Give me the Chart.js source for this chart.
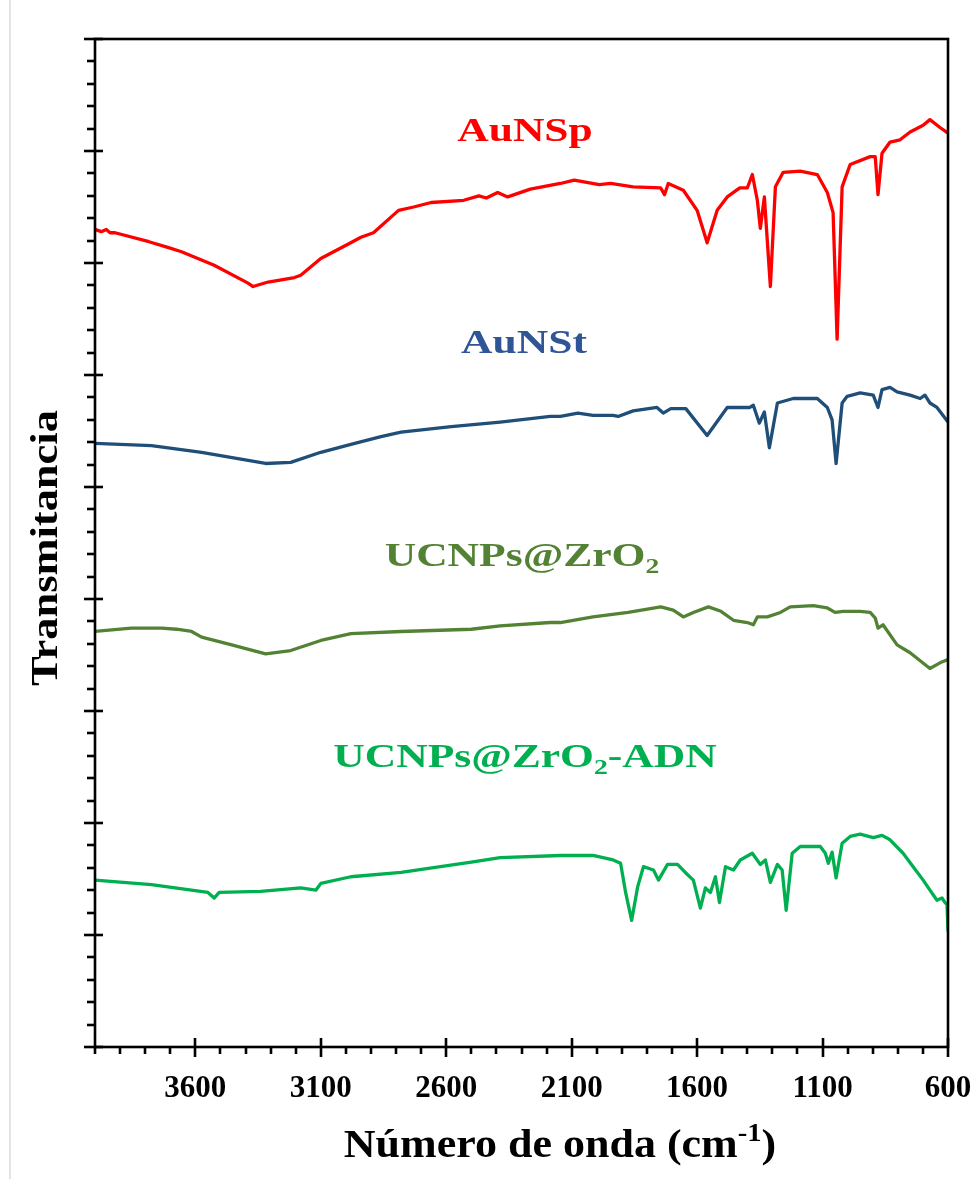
<!DOCTYPE html>
<html>
<head>
<meta charset="utf-8">
<script src="https://cdn.jsdelivr.net/npm/chart.js@4.4.1/dist/chart.umd.min.js"></script>
<style>
  html, body { margin: 0; padding: 0; background: #fff; }
  #wrap { position: relative; width: 977px; height: 1179px; }
  #edge { position: absolute; left: 9px; top: 0; width: 2px; height: 1179px; background: #e4e4e4; }
  canvas { display: block; }
</style>
</head>
<body>
<div id="wrap">
  <div id="edge"></div>
  <canvas id="c" width="977" height="1179"></canvas>
</div>
<script>
// FTIR spectra: wavenumber (cm-1) and transmittance (arbitrary, offset traces)
const xTickValues = [3600, 3100, 2600, 2100, 1600, 1100, 600];

const auNSpWave = [4000, 3975, 3955, 3940, 3920, 3785, 3710, 3655, 3525, 3390, 3370, 3310, 3205, 3180, 3100, 2990, 2940, 2890, 2790, 2730, 2660, 2530, 2470, 2440, 2395, 2355, 2265, 2145, 2090, 2040, 1990, 1945, 1855, 1745, 1730, 1715, 1655, 1600, 1560, 1520, 1480, 1430, 1400, 1380, 1360, 1348, 1332, 1308, 1288, 1257, 1189, 1121, 1081, 1058, 1042, 1022, 990, 910, 890, 879, 863, 831, 791, 751, 699, 672, 632, 600];
const auNSpT = [7.30, 7.28, 7.30, 7.27, 7.27, 7.19, 7.14, 7.10, 6.98, 6.82, 6.79, 6.83, 6.87, 6.89, 7.04, 7.17, 7.23, 7.27, 7.47, 7.50, 7.54, 7.56, 7.60, 7.58, 7.63, 7.59, 7.66, 7.71, 7.74, 7.72, 7.70, 7.71, 7.68, 7.67, 7.61, 7.71, 7.65, 7.47, 7.18, 7.47, 7.59, 7.67, 7.67, 7.79, 7.56, 7.31, 7.59, 6.79, 7.68, 7.81, 7.82, 7.79, 7.63, 7.45, 6.32, 7.68, 7.88, 7.95, 7.95, 7.61, 7.98, 8.08, 8.10, 8.17, 8.23, 8.28, 8.21, 8.16];

const auNStWave = [4000, 3775, 3575, 3320, 3220, 3100, 2980, 2860, 2780, 2580, 2385, 2185, 2145, 2075, 2015, 1935, 1915, 1855, 1760, 1735, 1705, 1645, 1560, 1480, 1390, 1376, 1352, 1332, 1312, 1280, 1217, 1121, 1081, 1062, 1046, 1022, 1002, 950, 898, 879, 863, 831, 803, 751, 711, 692, 672, 644, 600];
const auNStT = [5.39, 5.37, 5.31, 5.21, 5.22, 5.31, 5.38, 5.45, 5.49, 5.54, 5.58, 5.63, 5.63, 5.66, 5.64, 5.64, 5.63, 5.68, 5.71, 5.66, 5.70, 5.70, 5.46, 5.71, 5.71, 5.73, 5.57, 5.67, 5.35, 5.75, 5.79, 5.79, 5.71, 5.60, 5.21, 5.75, 5.81, 5.84, 5.82, 5.71, 5.87, 5.89, 5.85, 5.82, 5.79, 5.82, 5.75, 5.71, 5.58];

const ucnpWave = [4000, 3855, 3735, 3675, 3615, 3575, 3455, 3320, 3220, 3100, 2980, 2780, 2500, 2385, 2185, 2145, 2015, 1875, 1745, 1695, 1655, 1615, 1555, 1505, 1455, 1400, 1376, 1360, 1320, 1268, 1229, 1137, 1081, 1050, 1018, 950, 910, 890, 879, 859, 803, 751, 672, 632, 600];
const ucnpT = [3.71, 3.74, 3.74, 3.73, 3.71, 3.66, 3.59, 3.51, 3.54, 3.63, 3.69, 3.71, 3.73, 3.76, 3.79, 3.79, 3.84, 3.88, 3.93, 3.90, 3.84, 3.88, 3.93, 3.89, 3.81, 3.79, 3.77, 3.84, 3.84, 3.88, 3.93, 3.94, 3.92, 3.88, 3.89, 3.89, 3.88, 3.83, 3.74, 3.77, 3.59, 3.52, 3.38, 3.43, 3.46];

const adnWave = [4000, 3775, 3550, 3525, 3505, 3340, 3180, 3120, 3100, 2980, 2780, 2500, 2385, 2145, 2015, 1935, 1905, 1885, 1861, 1837, 1814, 1774, 1754, 1718, 1678, 1639, 1615, 1587, 1567, 1547, 1527, 1511, 1487, 1455, 1428, 1380, 1348, 1328, 1308, 1280, 1261, 1245, 1221, 1189, 1109, 1089, 1077, 1062, 1046, 1022, 990, 950, 898, 863, 831, 779, 739, 699, 672, 644, 624, 612, 604, 600];
const adnT = [1.49, 1.45, 1.38, 1.33, 1.38, 1.39, 1.42, 1.40, 1.46, 1.52, 1.56, 1.65, 1.69, 1.71, 1.71, 1.67, 1.64, 1.38, 1.13, 1.43, 1.61, 1.58, 1.49, 1.63, 1.63, 1.54, 1.49, 1.24, 1.42, 1.38, 1.52, 1.29, 1.61, 1.58, 1.67, 1.73, 1.63, 1.67, 1.47, 1.63, 1.58, 1.22, 1.73, 1.79, 1.79, 1.73, 1.64, 1.74, 1.51, 1.82, 1.88, 1.90, 1.87, 1.89, 1.85, 1.73, 1.61, 1.49, 1.40, 1.31, 1.33, 1.29, 1.27, 1.04];

const SERIF = '"Liberation Serif", "Times New Roman", serif';

// Trace styling and the in-plot captions (text parts: n = normal, sub = subscript)
const traces = [
  { name: 'AuNSp', wave: auNSpWave, t: auNSpT, line: '#ff0000', text: '#ff0000',
    parts: [['AuNSp', 'n']], cx: 525, base: 141 },
  { name: 'AuNSt', wave: auNStWave, t: auNStT, line: '#1f4e79', text: '#2f5597',
    parts: [['AuNSt', 'n']], cx: 524, base: 353 },
  { name: 'UCNPs@ZrO2', wave: ucnpWave, t: ucnpT, line: '#548235', text: '#548235',
    parts: [['UCNPs@ZrO', 'n'], ['2', 'sub']], cx: 522, base: 566 },
  { name: 'UCNPs@ZrO2-ADN', wave: adnWave, t: adnT, line: '#00b050', text: '#00b050',
    parts: [['UCNPs@ZrO', 'n'], ['2', 'sub'], ['-ADN', 'n']], cx: 525, base: 767 }
];

function drawRich(ctx, parts, size, color, stretch, align) {
  const fontFor = k => `bold ${k === 'n' ? size : Math.round(size * 0.64)}px ${SERIF}`;
  let total = 0;
  const widths = parts.map(([s, k]) => { ctx.font = fontFor(k); const w = ctx.measureText(s).width; total += w; return w; });
  ctx.save();
  ctx.scale(stretch, 1);
  ctx.fillStyle = color;
  ctx.textBaseline = 'alphabetic';
  ctx.textAlign = 'left';
  let x = align === 'center' ? -total / 2 : 0;
  parts.forEach(([s, k], i) => {
    ctx.font = fontFor(k);
    const dy = k === 'sub' ? size * 0.22 : (k === 'sup' ? -size * 0.40 : 0);
    ctx.fillText(s, x, dy);
    x += widths[i];
  });
  ctx.restore();
}

const decor = {
  id: 'decor',
  afterDatasetsDraw(chart) {
    const { ctx, chartArea: a, scales: { x, y } } = chart;
    ctx.save();
    ctx.strokeStyle = '#000';
    ctx.lineWidth = 2.6;
    ctx.lineCap = 'butt';
    ctx.strokeRect(a.left, a.top, a.right - a.left, a.bottom - a.top);

    // wavenumber ticks: majors cross the axis, minors every 100 cm-1 point outward
    for (let w = 600; w <= 4000; w += 100) {
      const px = Math.round(x.getPixelForValue(w));
      const major = xTickValues.includes(w);
      ctx.beginPath();
      ctx.moveTo(px, a.bottom - (major ? 9 : 0));
      ctx.lineTo(px, a.bottom + (major ? 10 : 7));
      ctx.stroke();
    }
    // transmittance ticks: majors every 1, minors every 0.2
    for (let i = 0; i <= 45; i++) {
      const py = Math.round(y.getPixelForValue(i * 0.2));
      const major = i % 5 === 0;
      ctx.beginPath();
      ctx.moveTo(a.left - (major ? 11 : 8), py);
      ctx.lineTo(a.left + (major ? 8 : 0), py);
      ctx.stroke();
    }
    ctx.restore();

    // captions beside each trace
    traces.forEach(tr => {
      ctx.save();
      ctx.translate(tr.cx, tr.base);
      drawRich(ctx, tr.parts, 33, tr.text, 1.32, 'center');
      ctx.restore();
    });

    // axis titles
    ctx.save();
    ctx.translate(560, 1157);
    drawRich(ctx, [['Número de onda (cm', 'n'], ['-1', 'sup'], [')', 'n']], 40, '#000', 1.1, 'center');
    ctx.restore();

    ctx.save();
    ctx.translate(57, 548);
    ctx.rotate(-Math.PI / 2);
    drawRich(ctx, [['Transmitancia', 'n']], 38, '#000', 1.17, 'center');
    ctx.restore();
  }
};

new Chart(document.getElementById('c'), {
  type: 'line',
  data: {
    datasets: traces.map(tr => ({
      label: tr.name,
      data: tr.wave.map((w, i) => ({ x: w, y: tr.t[i] })),
      borderColor: tr.line,
      borderWidth: 3.3,
      pointRadius: 0,
      tension: 0,
      borderJoinStyle: 'round',
      borderCapStyle: 'round'
    }))
  },
  options: {
    responsive: false,
    animation: false,
    devicePixelRatio: 1,
    layout: { padding: { top: 39, right: 29, left: 95, bottom: 0 } },
    plugins: { legend: { display: false }, tooltip: { enabled: false } },
    scales: {
      x: {
        type: 'linear',
        reverse: true,
        min: 600,
        max: 4000,
        afterBuildTicks: s => { s.ticks = xTickValues.map(v => ({ value: v })); },
        afterFit: s => { s.height = 132; s.paddingLeft = 0; s.paddingRight = 0; },
        grid: { display: false, drawTicks: false, tickLength: 0 },
        border: { display: false },
        ticks: {
          autoSkip: false,
          maxRotation: 0,
          padding: 23,
          color: '#000',
          font: { family: SERIF, weight: 'bold', size: 31 },
          callback: v => String(v)
        }
      },
      y: {
        display: false,
        min: 0,
        max: 9
      }
    }
  },
  plugins: [decor]
});
</script>
</body>
</html>
